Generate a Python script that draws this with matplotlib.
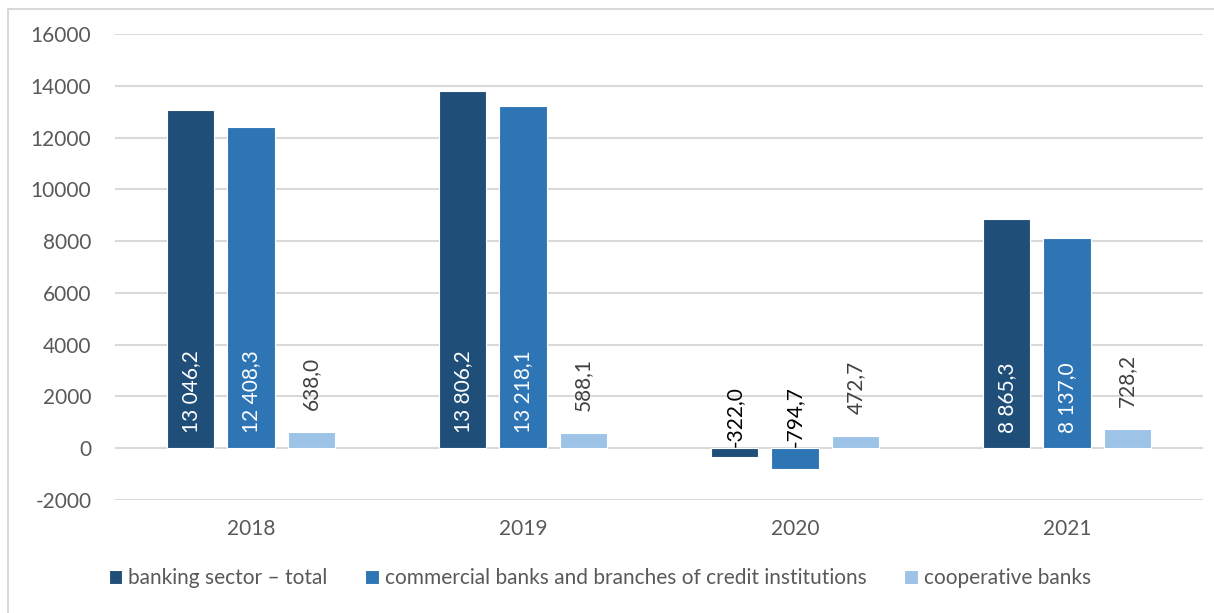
import matplotlib.pyplot as plt
import numpy as np
from matplotlib.patches import Rectangle

years = ['2018', '2019', '2020', '2021']
series_names = ['banking sector – total',
                'commercial banks and branches of credit institutions',
                'cooperative banks']
sector_total = [13046.2, 13806.2, -322.0, 8865.3]
commercial = [12408.3, 13218.1, -794.7, 8137.0]
cooperative = [638.0, 588.1, 472.7, 728.2]

colors = ['#1F4E79', '#2E75B6', '#9DC3E6']

plt.rcParams['font.family'] = ['Lato', 'DejaVu Sans']
plt.rcParams['axes.unicode_minus'] = False

fig = plt.figure(figsize=(12.14, 6.13), dpi=100)
ax = fig.add_axes([115 / 1214, 1 - 500 / 613, 1088 / 1214, 466 / 613])

x = np.arange(len(years))
width = 0.173
offsets = [-0.222, 0.0, 0.222]
fs = 15


def fmt(v):
    s = '{:,.1f}'.format(v)
    return s.replace(',', ' ').replace('.', ',')


for i, (vals, col) in enumerate(zip([sector_total, commercial, cooperative], colors)):
    bars = ax.bar(x + offsets[i], vals, width, color=col, edgecolor='white',
                  linewidth=0.8, label=series_names[i], zorder=3)
    for b, v in zip(bars, vals):
        cx = b.get_x() + b.get_width() / 2
        if v < 0:
            # negative values: label sits on the zero line
            ax.annotate(fmt(v), (cx, 0), xytext=(0, 1), textcoords='offset pixels',
                        rotation=90, ha='center', va='bottom', fontsize=fs,
                        color='black', zorder=4)
        elif i < 2:
            ax.annotate(fmt(v), (cx, 0), xytext=(0, 15), textcoords='offset pixels',
                        rotation=90, ha='center', va='bottom', fontsize=fs,
                        color='white', zorder=4)
        else:
            ax.annotate(fmt(v), (cx, v), xytext=(0, 22), textcoords='offset pixels',
                        rotation=90, ha='center', va='bottom', fontsize=fs,
                        color='#404040', zorder=4)

ax.set_xlim(-0.5, 3.5)
ax.set_ylim(-2000, 16000)
ax.set_yticks(np.arange(-2000, 16001, 2000))
ax.set_xticks(x)
ax.set_xticklabels(years)
ax.yaxis.grid(True, color='#D9D9D9', linewidth=1.5, zorder=0)
ax.set_axisbelow(True)
for s in ax.spines.values():
    s.set_visible(False)
ax.tick_params(axis='both', length=0, labelsize=fs, labelcolor='#595959')
ax.tick_params(axis='y', pad=17)
ax.tick_params(axis='x', pad=14)

fig.legend(loc='center', bbox_to_anchor=(600 / 1214, 1 - 578 / 613), ncol=3,
           frameon=False, fontsize=fs, labelcolor='#595959',
           handlelength=0.65, handleheight=0.65, handletextpad=0.3,
           columnspacing=1.8)

# light frame around the chart area
fig.patches.append(Rectangle((8 / 1214, -0.1), 1.2, 1 - 9 / 613 + 0.1,
                             transform=fig.transFigure, fill=False,
                             edgecolor='#D9D9D9', linewidth=1.5))

fig.savefig('out.png', dpi=100)
